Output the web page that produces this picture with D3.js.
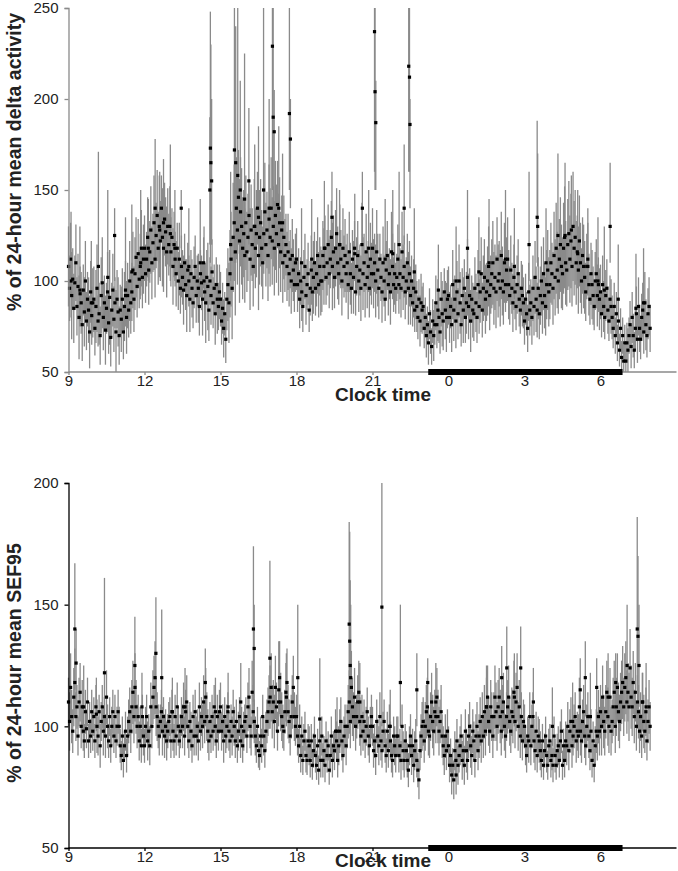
<!DOCTYPE html>
<html>
<head>
<meta charset="utf-8">
<script src="https://cdn.jsdelivr.net/npm/d3@7"></script>
<style>
  body { margin: 0; background: #fff; }
  svg { display: block; font-family: Arial, "Liberation Sans", sans-serif; }
</style>
</head>
<body>
<div id="chart"></div>
<script>
// 2.5-minute bins from 09:00 to ~07:58 next morning (clock hour; after midnight = 24+)
const startHour = 9;
const stepMin = 2.5;
const xTicks = [9, 12, 15, 18, 21, 24, 27, 30];
const xTickLabels = ["9", "12", "15", "18", "21", "0", "3", "6"];
const nightBar = [23.2, 30.87];

// delta activity, % of 24-hour mean (one row per clock hour, 9 .. 7)
const deltaMean = [
  108,96,112,92,101,85,99,110,86,97,80,93,88,76,95,83,100,78,90,84,72,94,81,88,
  90,74,86,96,78,82,70,92,99,80,88,73,85,94,77,91,69,84,95,79,88,72,90,83,
  70,84,79,90,72,86,95,80,92,84,100,88,94,106,90,104,113,97,115,101,108,118,102,112,
  118,104,112,124,106,116,128,110,121,132,112,125,136,118,130,122,140,124,118,134,127,116,130,120,
  130,116,124,108,120,112,104,118,100,112,96,108,102,95,110,98,92,106,100,90,104,96,88,102,
  108,92,100,96,86,104,99,90,110,94,88,102,97,84,100,92,105,88,96,82,98,90,86,94,
  90,78,85,74,82,68,90,98,88,104,112,96,124,132,116,140,128,146,122,138,130,118,126,114,
  132,116,124,136,112,128,120,108,130,118,126,140,114,124,132,118,110,126,138,120,128,114,134,124,
  140,122,130,118,136,126,142,120,132,116,128,110,124,114,120,108,116,104,112,100,114,106,98,110,
  112,98,104,90,100,94,86,102,108,92,98,104,84,96,106,94,102,110,96,104,114,98,108,100,
  100,114,108,118,102,110,120,104,112,124,108,116,102,118,126,110,104,120,112,100,118,108,114,104,
  110,98,116,104,96,112,102,118,94,108,114,100,106,96,120,104,110,98,116,102,108,96,112,104,
  118,104,110,100,116,106,96,112,102,94,110,100,90,106,114,98,104,94,116,108,98,104,96,102,
  112,98,104,96,116,102,108,94,100,110,96,104,92,100,88,96,84,94,86,80,90,78,88,84,
  86,74,80,70,76,66,82,72,64,78,70,76,88,76,84,80,72,90,82,78,94,84,80,90,
  92,80,86,76,98,84,90,78,94,82,100,88,76,92,84,96,80,88,102,86,92,78,90,84,
  82,96,88,80,98,86,94,104,84,96,102,90,94,100,108,92,98,104,110,96,102,94,112,100,
  104,96,114,100,94,110,98,106,112,98,92,106,96,88,102,94,86,98,104,90,84,96,92,88,
  78,90,82,74,94,84,88,80,96,86,102,90,84,96,82,92,100,88,104,92,86,98,106,94,
  98,110,104,96,114,102,118,106,100,112,120,108,104,118,124,110,106,120,126,112,122,108,130,118,
  124,110,116,106,122,110,100,114,108,102,94,108,112,98,90,104,98,92,86,100,104,92,98,90,
  94,82,98,86,80,92,96,84,78,90,86,80,74,86,70,82,66,78,62,74,58,70,56,66,
  56,66,62,70,76,64,80,70,62,74,82,68,86,74,68,80,84,72,88,76,70,82,86,74
];
const deltaSem = [
  22,18,20,24,17,19,15,21,16,18,23,15,17,20,14,19,22,16,15,18,20,17,16,19,
  18,15,20,24,14,17,16,21,25,18,15,19,14,22,17,26,16,15,20,18,14,23,16,19,
  16,14,18,17,15,19,16,20,18,15,22,17,16,21,18,20,22,17,19,16,18,21,17,19,
  18,16,15,22,19,17,24,20,16,26,21,18,25,20,28,22,18,27,24,20,19,25,21,17,
  22,19,16,21,18,15,18,14,16,20,14,17,15,19,16,14,20,15,14,18,13,16,14,17,
  17,15,14,19,16,13,15,20,14,16,22,15,24,17,13,16,18,14,13,17,15,19,13,15,
  15,13,14,16,12,13,17,20,22,24,26,28,30,32,35,28,30,26,34,30,32,28,24,26,
  26,22,24,20,28,25,20,22,26,22,24,20,30,26,24,21,20,22,27,23,21,25,30,27,
  28,24,22,26,30,27,24,28,25,22,19,22,23,20,17,19,21,18,16,18,20,17,15,16,
  17,15,14,16,13,16,14,15,18,16,14,17,12,15,19,16,20,17,15,18,21,18,16,19,
  17,19,21,18,15,18,22,19,16,20,24,20,17,21,25,20,17,22,16,19,22,17,20,16,
  16,19,22,17,14,16,20,15,13,16,19,17,14,18,23,20,16,18,21,17,14,16,20,17,
  22,19,16,20,23,20,17,14,13,17,20,14,12,16,19,17,14,18,22,18,15,17,14,13,
  19,16,14,16,22,18,17,15,13,16,20,18,16,14,13,16,12,15,14,12,11,14,16,13,
  13,11,11,12,10,12,14,12,10,12,14,11,15,13,17,14,12,15,18,16,13,16,19,16,
  16,14,12,15,19,17,13,15,17,14,20,17,12,15,18,16,14,17,21,18,15,17,13,15,
  15,17,16,14,19,15,17,20,15,18,21,19,16,19,22,19,16,19,23,20,18,20,23,20,
  18,21,24,19,18,22,15,18,23,19,16,19,14,16,18,15,13,16,19,15,13,15,17,14,
  13,14,12,13,16,14,13,15,18,16,20,18,15,17,14,16,19,17,20,18,16,19,22,19,
  19,22,17,20,24,21,25,21,18,22,26,23,20,25,28,23,20,25,29,24,26,22,30,26,
  26,23,20,24,25,22,18,21,23,20,16,18,20,17,14,17,19,16,13,16,19,17,15,17,
  15,13,16,14,12,14,16,13,11,13,15,12,11,13,10,12,10,11,9,11,9,10,9,10,
  9,11,12,10,13,12,14,12,10,12,15,13,16,13,11,13,15,12,17,14,12,14,16,13
];
// bins with long error bars: [clock hour, value, low, high]
const deltaSpikes = [
  [10.18,108,82,171],[10.55,102,80,150],[10.82,125,100,140],[12.42,140,112,178],
  [12.75,132,108,167],[13.02,126,100,175],[13.45,140,118,150],[14.58,150,120,190],
  [14.6,173,110,248],[14.62,165,120,230],[14.65,155,120,200],[15.55,172,110,250],
  [15.6,165,110,240],[15.68,158,115,250],[15.78,150,112,210],[15.95,145,115,225],
  [16.12,155,120,195],[16.7,150,118,250],[16.92,140,120,200],[17.05,229,150,250],
  [17.08,190,140,250],[17.12,182,140,205],[17.72,192,150,250],[17.76,178,140,200],
  [19.4,135,115,160],[20.6,140,120,160],[21.08,237,160,250],[21.1,204,150,250],
  [21.13,187,150,210],[22.25,140,120,175],[22.43,218,160,250],[22.46,212,160,250],
  [22.48,186,140,200],[24.75,118,95,150],[27.18,120,100,160],[27.5,135,110,188],
  [27.52,130,108,170],[28.32,125,105,170],[28.85,128,110,158],[30.38,130,110,165],
  [9.1,100,80,138],[9.45,95,75,130],[9.9,88,70,122],[11.25,92,75,135],
  [11.5,105,90,142],[11.85,110,92,150],[12.15,118,100,145],[12.6,128,110,160],
  [13.2,118,100,150],[13.75,108,90,140],[14.2,110,95,145],[14.35,100,90,130],
  [15.4,120,100,160],[16.35,130,110,175],[16.5,135,115,185],[17.3,140,120,185],
  [17.45,132,115,170],[18.2,110,90,140],[18.6,112,95,145],[19.1,118,100,155],
  [19.7,120,100,150],[20.3,115,100,148],[20.85,118,100,150],[21.5,112,95,145],
  [21.8,115,95,150],[22.05,120,100,160],[22.65,105,90,140],[23.6,95,80,120],
  [24.3,100,85,130],[25.2,105,90,135],[25.6,110,95,145],[26.25,112,95,150],
  [26.6,108,90,140],[27.85,110,92,140],[28.6,125,110,165],[29.1,115,100,150],
  [29.5,108,95,140],[29.9,100,88,135],[30.15,95,85,130],[30.7,90,80,120],
  [31.4,85,72,115],[31.7,88,75,118]
];

// SEF95, % of 24-hour mean
const sefMean = [
  110,102,116,104,98,112,118,104,108,96,110,114,100,108,98,94,106,99,110,94,102,96,106,98,
  104,94,108,100,96,106,92,102,108,98,104,96,112,100,94,104,92,100,106,96,104,94,100,106,
  100,92,88,96,86,92,98,88,96,102,106,98,108,114,104,116,108,100,104,94,100,92,104,96,
  92,100,104,94,98,92,108,100,112,116,120,108,104,100,96,102,106,98,104,96,100,94,98,102,
  104,94,106,98,94,104,96,108,100,94,98,104,100,108,96,106,110,100,94,102,98,92,104,96,
  106,96,100,94,108,98,104,100,110,102,112,104,98,94,102,96,104,98,108,100,94,104,98,106,
  108,98,102,94,104,96,100,106,98,94,102,96,106,100,94,102,92,98,104,94,100,92,98,102,
  104,96,108,112,100,96,114,106,102,96,92,100,90,88,96,92,104,96,90,98,102,106,110,112,
  116,106,110,102,116,108,98,110,120,110,104,100,98,106,114,118,106,102,96,104,110,116,104,100,
  104,96,92,100,88,96,86,94,98,88,86,94,92,86,94,84,90,96,88,84,92,82,94,86,
  96,86,90,84,94,88,92,82,88,96,86,92,90,98,94,86,92,98,102,94,88,96,100,92,
  100,106,110,102,116,108,104,112,100,104,110,114,102,96,104,98,102,94,100,106,96,92,100,104,
  100,90,94,88,102,96,92,104,94,90,98,102,92,88,98,90,100,94,88,86,96,92,88,96,
  96,88,92,86,100,90,86,94,90,86,82,92,96,88,92,84,90,94,86,82,78,90,96,100,
  102,94,100,106,108,98,96,104,110,102,98,106,104,112,104,98,102,106,96,92,88,96,90,98,
  92,84,88,80,84,78,90,86,94,84,88,92,96,86,90,84,98,90,86,96,100,92,88,98,
  94,86,96,100,90,96,102,94,104,96,106,98,108,112,102,98,108,104,96,104,112,106,100,108,
  112,104,98,106,110,100,96,104,108,112,102,98,106,104,114,102,110,116,100,108,96,104,94,102,
  100,92,88,96,94,104,92,100,104,94,90,98,88,96,94,90,86,94,84,90,96,88,84,92,
  94,86,88,84,96,88,84,90,92,86,94,98,84,92,86,94,92,100,90,98,102,92,96,100,
  104,94,98,96,108,98,94,102,106,96,92,100,104,96,90,98,86,94,84,92,98,96,104,98,
  106,100,112,102,98,106,114,104,100,112,98,102,108,114,100,108,116,106,102,110,114,118,108,116,
  120,110,114,108,124,112,108,118,104,114,100,110,106,98,104,96,110,102,98,106,94,102,108,100
];
const sefSem = [
  10,12,14,11,9,12,14,10,9,8,10,12,9,11,8,7,9,8,10,7,8,7,9,8,
  8,7,9,11,8,7,9,8,9,10,8,9,11,9,7,8,7,8,9,7,9,7,8,9,
  8,7,6,8,7,6,8,7,8,9,10,9,11,13,11,14,11,9,9,8,8,7,9,8,
  7,8,9,8,7,8,10,9,11,13,15,12,10,9,8,7,9,10,8,9,7,8,7,8,
  8,7,9,8,7,9,8,10,8,7,7,8,9,10,8,9,11,9,7,8,8,7,9,8,
  9,8,7,8,10,8,8,9,11,9,12,10,9,8,8,7,9,8,9,8,7,9,8,9,
  10,8,7,9,8,7,9,8,8,7,7,8,9,8,7,9,7,8,8,7,8,7,8,7,
  8,7,10,12,9,8,13,11,9,8,7,8,7,6,8,7,9,8,7,8,9,10,11,13,
  14,11,9,11,13,10,8,10,15,12,10,9,8,9,12,14,11,9,8,9,11,13,10,8,
  9,8,7,9,7,8,6,7,8,7,6,7,8,7,7,6,7,8,7,6,7,6,8,7,
  8,7,6,7,8,7,6,6,7,8,7,6,8,9,8,7,8,9,10,8,7,8,9,8,
  9,11,13,11,15,12,10,12,10,9,11,13,10,8,9,8,9,7,8,10,8,7,8,9,
  8,7,7,8,9,7,8,10,8,7,8,9,7,7,8,7,9,8,7,7,8,8,7,8,
  8,7,7,8,9,8,7,7,8,7,7,8,9,8,7,7,8,9,7,7,8,8,9,10,
  10,9,10,11,12,10,9,10,12,11,10,9,11,12,11,10,9,11,9,8,8,9,8,9,
  8,7,7,8,7,8,8,7,9,8,7,8,9,8,7,8,9,9,8,9,10,9,8,9,
  8,7,9,10,8,9,10,9,10,9,11,10,12,13,10,9,11,10,9,10,13,12,10,11,
  12,11,10,11,12,10,9,10,11,13,10,9,10,11,13,11,12,14,10,11,9,10,8,9,
  9,8,7,8,9,10,8,9,10,9,8,8,7,8,9,8,7,7,6,7,8,7,6,7,
  7,7,6,7,8,7,6,7,8,7,8,9,6,7,7,8,8,10,8,9,10,9,8,9,
  10,9,8,9,12,10,9,9,11,9,8,9,10,9,8,9,7,8,7,8,9,10,11,10,
  11,12,13,11,10,11,13,12,11,12,10,9,12,13,11,12,14,12,11,12,13,15,12,14,
  15,13,12,14,16,13,12,13,11,12,10,11,11,9,10,9,12,11,9,10,8,9,11,10
];
const sefSpikes = [
  [9.25,140,115,167],[9.3,126,112,140],[10.42,122,100,161],[11.62,125,108,145],
  [12.45,130,112,153],[12.68,120,105,148],[14.4,118,105,132],[16.3,140,110,174],
  [16.33,132,108,150],[16.95,128,108,168],[18.05,120,104,150],[18.92,103,95,128],
  [20.08,142,115,184],[20.1,135,112,180],[20.12,125,108,160],[20.14,120,105,150],
  [21.37,149,100,200],[22.1,118,100,150],[22.75,115,100,130],[23.18,118,105,128],
  [24.3,80,72,90],[26.1,120,105,133],[26.3,124,108,141],[26.85,124,108,141],
  [27.35,110,100,124],[29.2,115,100,128],[29.4,120,104,135],[29.85,116,100,128],
  [30.6,118,105,130],[31.05,125,108,150],[31.45,140,115,186],[31.48,137,112,170],
  [31.52,125,108,150],[31.65,110,98,122],
  [9.6,108,100,125],[10.1,105,98,120],[11.9,108,100,122],[13.1,106,98,120],
  [13.6,108,100,124],[14.8,106,98,120],[15.3,108,100,122],[15.8,110,100,126],
  [17.3,115,104,135],[17.6,112,100,130],[19.6,98,90,112],[20.5,110,100,126],
  [21.7,100,92,115],[23.5,110,100,126],[25.5,108,98,125],[26.6,112,100,130],
  [28.1,100,92,116],[28.9,102,94,118],[29.6,104,95,122],[30.3,112,102,130],
  [31.8,108,98,126]
];

const width = 678, height = 871;
const x = d3.scaleLinear().domain([9, 33]).range([68.5, 676.5]);

const svg = d3.select("#chart").append("svg")
  .attr("width", width).attr("height", height);

function toRows(mean, sem, spikes) {
  let rows = mean.map(function(v, i) {
    let e = sem[i] || 10;
    return { t: startHour + i * stepMin / 60, v: v, lo: v - e, hi: v + e };
  });
  spikes.forEach(function(s) {
    rows.push({ t: s[0], v: s[1], lo: s[2], hi: s[3] });
  });
  return rows;
}

function drawPanel(opts) {
  const y = d3.scaleLinear().domain(opts.domain).range([opts.bottom, opts.top]);
  const g = svg.append("g");
  const rows = toRows(opts.mean, opts.sem, opts.spikes);
  const clip = function(v) { return Math.max(opts.domain[0], Math.min(opts.domain[1], v)); };

  // error bars
  g.append("g").selectAll("line").data(rows).join("line")
    .attr("x1", d => x(d.t)).attr("x2", d => x(d.t))
    .attr("y1", d => y(clip(d.lo))).attr("y2", d => y(clip(d.hi)))
    .attr("stroke", "#8a8a8a").attr("stroke-width", 1.3);

  // points
  g.append("g").selectAll("rect").data(rows).join("rect")
    .attr("x", d => x(d.t) - 1.6).attr("y", d => y(d.v) - 1.6)
    .attr("width", 3.2).attr("height", 3.2).attr("fill", "#000");

  // axes
  const yAxis = d3.axisLeft(y).tickValues(opts.yTicks).tickSize(4).tickPadding(6);
  const xAxis = d3.axisBottom(x).tickValues(xTicks)
    .tickFormat((d, i) => xTickLabels[i]).tickSize(3).tickPadding(0);

  const ya = g.append("g").attr("transform", `translate(${x(9)},0)`).call(yAxis);
  const xa = g.append("g").attr("transform", `translate(0,${opts.bottom})`).call(xAxis);
  [ya, xa].forEach(function(a) {
    a.select(".domain").attr("stroke", opts.axisColor).attr("stroke-width", 1.3);
    a.selectAll(".tick line").attr("stroke", opts.axisColor).attr("stroke-width", 1.3);
    a.selectAll(".tick text").attr("font-size", 15).attr("fill", "#222")
      .attr("font-family", "Arial, 'Liberation Sans', sans-serif");
  });
  xa.select(".domain").attr("d", `M${x(9)},0H${x(33)}`);

  // lights-off bar
  g.append("rect")
    .attr("x", x(nightBar[0])).attr("y", opts.bottom - 3)
    .attr("width", x(nightBar[1]) - x(nightBar[0])).attr("height", 6)
    .attr("fill", "#000");

  g.append("text")
    .attr("x", 383).attr("y", opts.labelY)
    .attr("text-anchor", "middle").attr("font-size", 19).attr("font-weight", "bold")
    .attr("fill", "#222").text("Clock time");

  g.append("text")
    .attr("transform", `translate(21,${opts.titleY}) rotate(-90)`)
    .attr("text-anchor", "middle").attr("font-size", 19.5).attr("font-weight", "bold")
    .attr("fill", "#222").text(opts.title);
}

drawPanel({
  mean: deltaMean, sem: deltaSem, spikes: deltaSpikes,
  domain: [50, 250], yTicks: [50, 100, 150, 200, 250],
  top: 8, bottom: 372, axisColor: "#8a8a8a", titleY: 162, labelY: 401,
  title: "% of 24-hour mean delta activity"
});
drawPanel({
  mean: sefMean, sem: sefSem, spikes: sefSpikes,
  domain: [50, 200], yTicks: [50, 100, 150, 200],
  top: 483, bottom: 848, axisColor: "#000", titleY: 663, labelY: 867,
  title: "% of 24-hour mean SEF95"
});
</script>
</body>
</html>
